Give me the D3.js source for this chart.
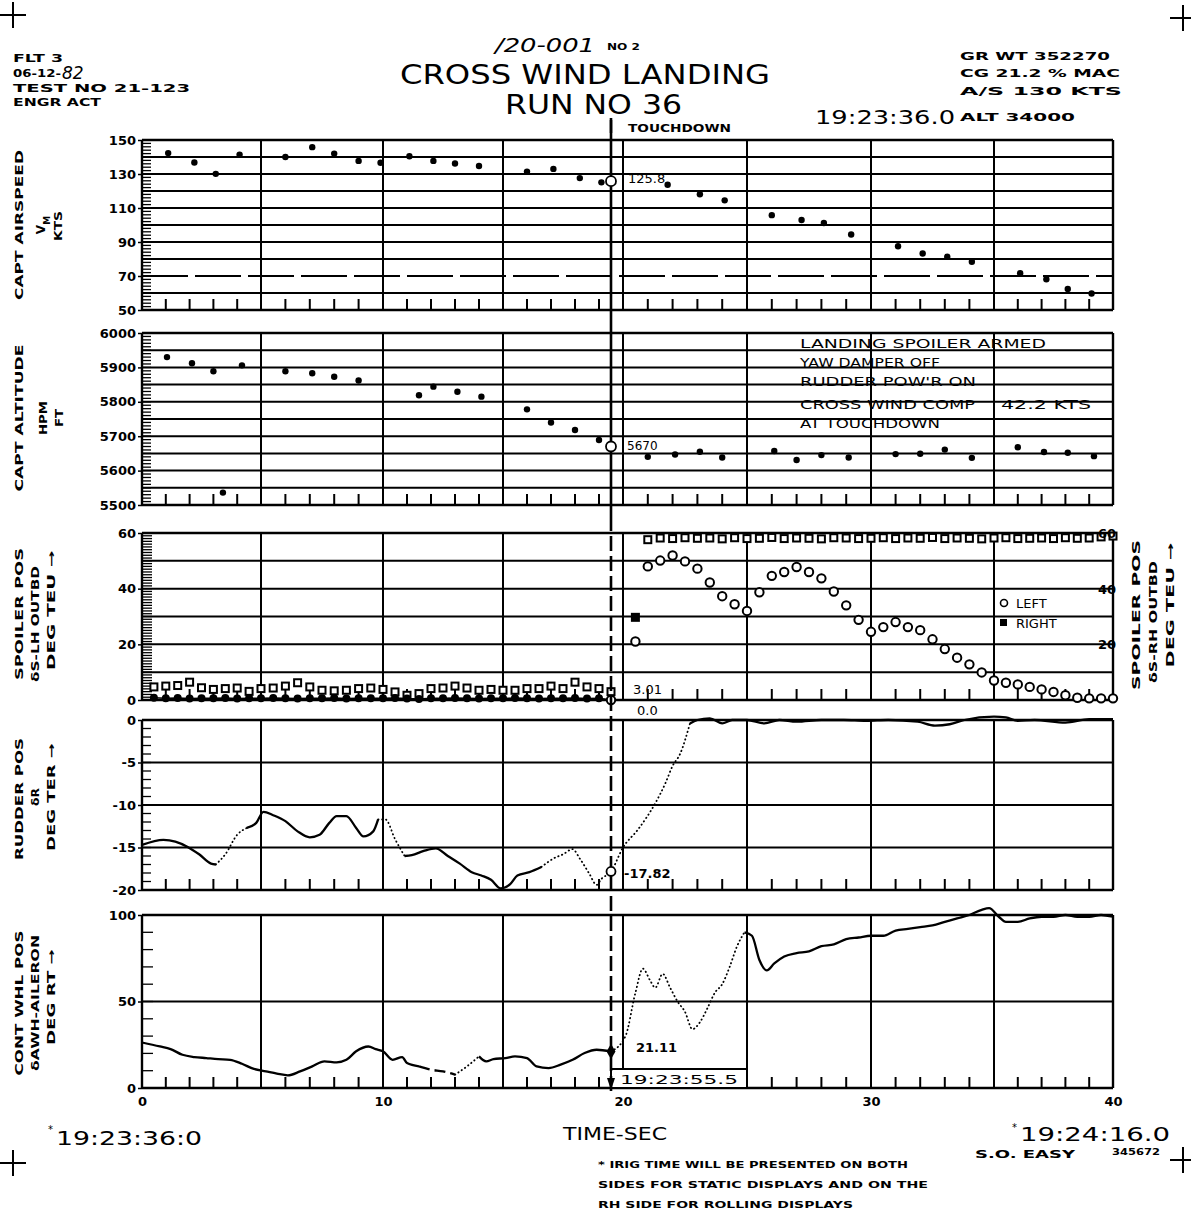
<!DOCTYPE html>
<html><head><meta charset="utf-8">
<script src="https://cdn.jsdelivr.net/npm/d3@7"></script>
<style>body{margin:0;background:#fff}svg{display:block}</style>
</head><body>
<script>
// ---------------- DATA ----------------
const timeBreaks = [0,5,10,15,20,25,30,35,40];
const timeLabels = [0,10,20,30,40];
const touchdownTime = 19.5;

const airspeedTime = [1.1,2.2,3.1,4.1,6.0,7.1,8.0,9.0,9.9,11.1,12.1,13.0,14.0,16.0,17.1,18.2,19.1,21.8,23.1,24.1,26.0,27.2,28.1,29.2,31.1,32.1,33.1,34.1,36.1,37.2,38.1,39.1];
const airspeedKts = [142.3,136.8,130.1,141.4,140.0,145.8,142.0,137.7,136.6,140.4,137.7,136.2,134.7,131.4,133.0,127.6,125.1,123.7,118.1,114.5,105.8,102.9,101.2,94.4,87.5,83.2,81.3,78.4,71.6,68.1,62.4,59.7];
const airspeedTicks = [50,70,90,110,130,150];
const airspeedAtTouchdown = 125.8;

const altitudeTime = [1.05,2.1,3.0,3.4,4.2,6.0,7.1,8.0,9.0,11.5,12.1,13.1,14.1,16.0,17.0,18.0,19.0,21.0,22.1,23.1,24.0,26.1,27.0,28.0,29.1,31.0,32.0,33.0,34.1,36.0,37.1,38.1,39.2];
const altitudeFt = [5930,5912,5889,5536,5906,5889,5883,5873,5862,5819,5844,5829,5815,5778,5740,5718,5689,5640,5647,5655,5638,5657,5631,5645,5638,5648,5649,5661,5637,5668,5654,5652,5642];
const altitudeTicks = [5500,5600,5700,5800,5900,6000];
const altitudeAtTouchdown = 5670;

const spoilerTime = [0.5,1,1.5,2,2.5,3,3.5,4,4.5,5,5.5,6,6.5,7,7.5,8,8.5,9,9.5,10,10.5,11,11.5,12,12.5,13,13.5,14,14.5,15,15.5,16,16.5,17,17.5,18,18.5,19,19.5,
  20.5,21,21.5,22,22.5,23,23.5,24,24.5,25,25.5,26,26.5,27,27.5,28,28.5,29,29.5,30,30.5,31,31.5,32,32.5,33,33.5,34,34.5,35,35.5,36,36.5,37,37.5,38,38.5,39,39.5,40];
const spoilerRight = [4.7,5.0,5.2,6.4,4.4,3.8,4.1,4.3,3.1,4.1,4.3,5.0,6.2,4.7,3.5,3.3,3.5,4.1,4.3,3.8,2.9,1.7,2.3,4.1,4.3,5.0,4.3,3.5,3.8,3.5,3.5,4.1,4.1,5.0,4.1,6.4,4.7,4.1,3.0,
  29.7,57.6,58.2,58.0,58.3,58.1,58.2,57.9,58.3,58.0,58.1,58.4,58.0,58.2,58.1,57.9,58.3,58.2,58.0,58.1,58.3,58.0,58.2,58.1,58.4,58.0,58.2,58.1,57.9,58.2,58.3,58.0,58.1,58.2,58.0,58.3,58.1,58.2,58.6,58.9];
const spoilerLeft = [0.8,0.6,0.7,0.5,0.6,0.6,0.7,0.5,0.6,0.6,0.7,0.6,0.5,0.6,0.6,0.7,0.5,0.6,0.6,0.6,0.7,0.5,0.4,0.6,0.6,0.7,0.6,0.5,0.6,0.6,0.7,0.6,0.5,0.6,0.6,0.7,0.5,0.6,0.0,
  21.0,48.0,50.1,51.9,49.8,47.2,42.2,37.3,34.4,32.0,38.7,44.6,46.0,47.8,46.0,43.7,39.0,34.0,28.8,24.5,26.2,28.0,26.2,25.1,21.8,18.3,15.2,12.8,9.9,7.0,6.2,5.6,4.7,3.8,2.9,1.7,0.8,0.6,0.6,0.6];
const spoilerTicksLeft = [0,20,40,60];
const spoilerTicksRight = [20,40,60];
const spoilerRightAtTouchdown = "3.01";
const spoilerLeftAtTouchdown = "0.0";

const rudderTime = [0,0.9,1.4,1.9,2.4,2.9,3.1,3.5,4.0,4.4,4.8,5.1,5.5,6.0,6.5,7.0,7.4,7.8,8.1,8.5,8.9,9.2,9.6,9.8,10.1,10.5,10.9,11.2,11.7,12.2,12.7,13.2,13.7,14.1,14.5,14.9,15.3,15.6,16.1,16.6,17.1,17.5,17.9,18.2,18.6,18.9,19.1,19.5,20.0,20.6,21.3,21.7,22.0,22.3,22.7,23.0,23.5,24.0,24.4,25.0,25.7,26.3,27.0,28.0,28.9,29.8,30.7,31.9,32.6,33.2,33.8,35.0,35.5,36.0,36.7,38.0,39.0,40.0];
const rudderDeg = [-14.7,-14.1,-14.3,-14.9,-15.8,-16.9,-17.0,-15.8,-13.5,-12.7,-12.1,-10.8,-11.2,-11.9,-13.1,-13.8,-13.5,-12.1,-11.3,-11.3,-12.7,-13.7,-13.1,-11.7,-11.7,-14.0,-16.0,-15.9,-15.4,-15.1,-16.0,-16.9,-17.9,-18.3,-18.8,-19.8,-19.3,-18.3,-17.9,-17.3,-16.3,-15.8,-15.2,-16.3,-18.1,-19.4,-18.7,-17.82,-15.0,-12.9,-9.8,-7.5,-5.4,-4.0,-0.4,0,0.2,-0.4,0,0,-0.4,0,-0.2,0,0,-0.1,0,-0.2,-0.65,-0.5,0,0.4,0.3,-0.1,0,-0.3,0.1,0.1];
const rudderTicks = [-20,-15,-10,-5,0];
const rudderAtTouchdown = -17.82;

const aileronTime = [0,0.75,1.2,1.7,2.2,2.7,3.2,3.7,4.2,4.7,5.2,5.65,6.1,6.6,7.1,7.6,8.1,8.5,8.9,9.4,9.7,10.0,10.4,10.8,11.0,11.5,12.0,12.5,13.0,13.5,14.0,14.3,14.6,15.1,15.5,16.0,16.4,16.9,17.4,17.9,18.4,18.9,19.5,
  20.1,20.5,20.8,21.1,21.3,21.6,21.9,22.2,22.5,22.8,23.1,23.4,23.7,24.0,24.3,24.6,24.9,25.2,25.5,25.8,26.1,26.5,27.0,27.5,28.0,28.5,29.0,29.5,30.0,30.5,31.0,31.5,32.0,32.5,33.0,33.5,34.0,34.5,34.8,35.2,35.5,36.0,36.5,37.0,37.5,38.0,38.5,39.0,39.5,40.0];
const aileronDeg = [26.3,24.0,22.5,19.2,17.9,17.3,16.7,16.3,14.0,11.0,9.6,8.3,7.3,9.6,12.5,15.4,14.8,16.3,21.2,24.0,22.5,21.2,16.3,17.9,14.4,12.5,10.6,9.6,7.7,12.5,18.3,15.4,16.7,17.3,18.3,17.3,12.5,11.5,13.5,16.3,20.2,22.1,21.11,
  30,55,69,62,58,66,58,50,44,34,38,46,55,60,70,82,90,88,74,68,72,76,78,79,82,83,86,87,88,88,91,92,93,94,96,98,100,103,104,99,96,96,98,99,99,100,99,99,100,99];
const aileronTicks = [0,50,100];
const aileronAtTouchdown = 21.11;

// ---------------- DRAWING ----------------
const W = 1191, H = 1220;
const FONT = "'DejaVu Sans', 'Liberation Sans', sans-serif";
const svg = d3.select("body").append("svg").attr("width", W).attr("height", H)
  .style("background", "#fff");
svg.append("rect").attr("width", W).attr("height", H).attr("fill", "#fff");

const x = d3.scaleLinear().domain(timeBreaks).range([142,261,383,503,623,747,871,994,1113]);
const X0 = x(0), X1 = x(40);

function txt(px, py, s, o = {}) {
  const t = svg.append("text").attr("x", px).attr("y", py).text(s)
    .attr("font-family", o.family || FONT)
    .attr("font-size", o.size || 11)
    .attr("font-weight", o.weight || "bold")
    .attr("font-style", o.style || null)
    .attr("fill", "#000")
    .attr("text-anchor", o.anchor || "start");
  if (o.len) t.attr("textLength", o.len).attr("lengthAdjust", "spacingAndGlyphs");
  return t;
}
function vtxt(cx, cy, s, o = {}) {
  const t = svg.append("text").attr("transform", `translate(${cx},${cy}) rotate(-90)`)
    .text(s).attr("font-family", FONT).attr("font-size", o.size || 10.5)
    .attr("font-weight", "bold").attr("fill", "#000").attr("text-anchor", "middle");
  if (o.len) t.attr("textLength", o.len).attr("lengthAdjust", "spacingAndGlyphs");
  return t;
}

function frame(y, gridStep, minorStep, minorLen, tickVals, dashedGrid = []) {
  const [d0, d1] = y.domain();
  const top = y(d1), bot = y(d0);
  const g = svg.append("g");
  const gv = d3.range(d0, d1 + gridStep / 2, gridStep);
  g.selectAll(null).data(gv).join("line")
    .attr("x1", X0).attr("x2", X1).attr("y1", d => y(d)).attr("y2", d => y(d))
    .attr("stroke", "#000").attr("stroke-width", d => (d === d0 || d === d1) ? 2.4 : 2)
    .attr("stroke-dasharray", d => dashedGrid.includes(d) ? "46,7" : null);
  g.selectAll(null).data(d3.range(0, 41, 5)).join("line")
    .attr("x1", d => x(d)).attr("x2", d => x(d)).attr("y1", top).attr("y2", bot)
    .attr("stroke", "#000").attr("stroke-width", d => (d === 0 || d === 40) ? 2.4 : 2);
  g.selectAll(null).data(d3.range(1, 40).filter(d => d % 5 !== 0)).join("line")
    .attr("x1", d => x(d)).attr("x2", d => x(d)).attr("y1", bot).attr("y2", bot - 11)
    .attr("stroke", "#000").attr("stroke-width", 2);
  g.selectAll(null).data(d3.range(d0, d1 + minorStep / 2, minorStep)).join("line")
    .attr("x1", X0).attr("x2", X0 + minorLen).attr("y1", d => y(d)).attr("y2", d => y(d))
    .attr("stroke", "#000").attr("stroke-width", 1.3);
  const ax = d3.axisLeft(y).tickValues(tickVals).tickSize(4).tickPadding(2).tickFormat(d => String(d));
  const a = g.append("g").attr("transform", `translate(${X0},0)`).call(ax);
  a.select(".domain").remove();
  a.selectAll("line").attr("stroke", "#000").attr("stroke-width", 1.5);
  a.selectAll("text").attr("font-family", FONT).attr("font-weight", "bold")
    .attr("font-size", 13).attr("fill", "#000");
  return g;
}

function styledLine(y, ts, vs, dotted, dashed) {
  const pts = ts.map((t, i) => [t, vs[i]]);
  const inR = (m, rs) => rs.some(r => m >= r[0] && m <= r[1]);
  const runs = []; let cur = null;
  for (let i = 0; i < pts.length - 1; i++) {
    const m = (pts[i][0] + pts[i + 1][0]) / 2;
    const s = inR(m, dotted) ? "dot" : inR(m, dashed) ? "dash" : "solid";
    if (!cur || cur.s !== s) { cur = { s, p: [pts[i]] }; runs.push(cur); }
    cur.p.push(pts[i + 1]);
  }
  const line = d3.line().x(d => x(d[0])).y(d => y(d[1])).curve(d3.curveMonotoneX);
  runs.forEach(r => {
    svg.append("path").attr("d", line(r.p)).attr("fill", "none").attr("stroke", "#000")
      .attr("stroke-width", r.s === "dot" ? 1.8 : 2.3)
      .attr("stroke-linecap", r.s === "dot" ? "round" : "butt")
      .attr("stroke-dasharray", r.s === "dot" ? "0.4,3.6" : r.s === "dash" ? "11,5" : null);
  });
}

const yAir = d3.scaleLinear([50, 150], [310, 140]);
const yAlt = d3.scaleLinear([5500, 6000], [505, 333]);
const ySp = d3.scaleLinear([0, 60], [700, 533]);
const yRud = d3.scaleLinear([-20, 0], [890, 720]);
const yAil = d3.scaleLinear([0, 100], [1088, 915]);

frame(yAir, 10, 2, 9, airspeedTicks, [70]);
frame(yAlt, 50, 10, 9, altitudeTicks);
frame(ySp, 10, 1, 10, spoilerTicksLeft);
frame(yRud, 5, 1, 9, rudderTicks);
frame(yAil, 50, 10, 11, aileronTicks);

const xT = x(touchdownTime);

// panel 1
svg.append("g").selectAll("circle").data(d3.zip(airspeedTime, airspeedKts)).join("circle")
  .attr("cx", d => x(d[0])).attr("cy", d => yAir(d[1])).attr("r", 3.2).attr("fill", "#000");

// panel 2
svg.append("g").selectAll("circle").data(d3.zip(altitudeTime, altitudeFt)).join("circle")
  .attr("cx", d => x(d[0])).attr("cy", d => yAlt(d[1])).attr("r", 3.2).attr("fill", "#000");
const note = [["LANDING SPOILER ARMED", 348, 246], ["YAW DAMPER OFF", 367, 140], ["RUDDER POW'R ON", 386, 176],
  ["CROSS WIND COMP", 409, 175], ["AT TOUCHDOWN", 428, 140]];
note.forEach(n => txt(800, n[1], n[0], { size: 13, weight: "normal", len: n[2] }));
txt(1001, 409, "42.2 KTS", { size: 13, weight: "normal", len: 90 });

// panel 3
const spPts = d3.zip(spoilerTime, spoilerLeft, spoilerRight);
svg.append("path").attr("d", d3.line().x(d => x(d[0])).y(d => ySp(d[1]))(spPts.filter(d => d[0] < touchdownTime + 0.01)))
  .attr("fill", "none").attr("stroke", "#000").attr("stroke-width", 1.5);
svg.append("g").selectAll("rect").data(spPts).join("rect")
  .attr("x", d => x(d[0]) - 3.5).attr("y", d => ySp(d[2]) - 3.5).attr("width", 7).attr("height", 7)
  .attr("fill", d => d[2] < 40 && d[0] > touchdownTime ? "#000" : "#fff")
  .attr("stroke", "#000").attr("stroke-width", 2);
svg.append("g").selectAll("circle").data(spPts).join("circle")
  .attr("cx", d => x(d[0])).attr("cy", d => ySp(d[1]))
  .attr("r", d => d[0] < touchdownTime ? 3 : 4.2)
  .attr("fill", d => d[0] < touchdownTime ? "#000" : "#fff")
  .attr("stroke", "#000").attr("stroke-width", 2);
txt(633, 694, spoilerRightAtTouchdown, { size: 13, weight: "normal" });
txt(637, 715, spoilerLeftAtTouchdown, { size: 13, weight: "normal" });
spoilerTicksRight.forEach(v => txt(1116, ySp(v) + 5, String(v), { size: 13, anchor: "end" }));
svg.append("circle").attr("cx", 1004).attr("cy", 603).attr("r", 3.5).attr("fill", "#fff").attr("stroke", "#000").attr("stroke-width", 1.6);
txt(1016, 608, "LEFT", { size: 13, weight: "normal" });
svg.append("rect").attr("x", 1000).attr("y", 619).attr("width", 7).attr("height", 7).attr("fill", "#000");
txt(1016, 628, "RIGHT", { size: 13, weight: "normal" });

// panel 4
styledLine(yRud, rudderTime, rudderDeg, [[3.1, 4.4], [9.8, 10.9], [16.6, 22.8]], []);

// panel 5
styledLine(yAil, aileronTime, aileronDeg, [[13.0, 14.0], [19.5, 24.9]], [[11.6, 13.0]]);
svg.append("rect").attr("x", xT).attr("y", 1069).attr("width", x(25) - xT).attr("height", 19)
  .attr("fill", "#fff").attr("stroke", "#000").attr("stroke-width", 2);
txt(620, 1084, "19:23:55.5", { size: 12, weight: "normal", len: 118 });

// touchdown line and markers (on top)
svg.append("line").attr("x1", xT).attr("x2", xT).attr("y1", 118).attr("y2", 516)
  .attr("stroke", "#000").attr("stroke-width", 2.6);
svg.append("line").attr("x1", xT).attr("x2", xT).attr("y1", 516).attr("y2", 1092)
  .attr("stroke", "#000").attr("stroke-width", 2.6).attr("stroke-dasharray", "15,5");
svg.append("path").attr("d", `M${xT - 4},1078 L${xT + 4},1078 L${xT},1090 Z`).attr("fill", "#000");

svg.append("circle").attr("cx", xT).attr("cy", yAir(airspeedAtTouchdown)).attr("r", 5)
  .attr("fill", "#fff").attr("stroke", "#000").attr("stroke-width", 1.8);
txt(628, yAir(airspeedAtTouchdown) + 2, String(airspeedAtTouchdown), { size: 13, weight: "normal" });
svg.append("circle").attr("cx", xT).attr("cy", yAlt(altitudeAtTouchdown)).attr("r", 5)
  .attr("fill", "#fff").attr("stroke", "#000").attr("stroke-width", 1.8);
txt(627, yAlt(altitudeAtTouchdown) + 3, String(altitudeAtTouchdown), { size: 12, weight: "normal" });
svg.append("circle").attr("cx", xT).attr("cy", yRud(rudderAtTouchdown)).attr("r", 4.5)
  .attr("fill", "#fff").attr("stroke", "#000").attr("stroke-width", 1.8);
txt(624, yRud(rudderAtTouchdown) + 7, "-17.82", { size: 13, weight: "bold" });
svg.append("path").attr("d", d3.symbol(d3.symbolDiamond, 70)())
  .attr("transform", `translate(${xT},${yAil(aileronAtTouchdown)})`).attr("fill", "#000");
txt(636, 1052, String(aileronAtTouchdown), { size: 13, weight: "bold" });

// x axis labels
const xa = svg.append("g").attr("transform", `translate(0,1088)`)
  .call(d3.axisBottom(x).tickValues(timeLabels).tickSize(0).tickPadding(9).tickFormat(d => String(d)));
xa.select(".domain").remove();
xa.selectAll("text").attr("font-family", FONT).attr("font-weight", "bold").attr("font-size", 13).attr("fill", "#000");

// rotated titles
vtxt(23, 225, "CAPT AIRSPEED", { len: 150 });
const vm = vtxt(45, 225, "V", { size: 12 });
vm.append("tspan").attr("dy", 5).attr("font-size", 9).text("M");
vtxt(62, 226, "KTS", { len: 30 });
vtxt(23, 418, "CAPT ALTITUDE", { len: 147 });
vtxt(47, 418, "HPM", { len: 34 });
vtxt(63, 418, "FT", { len: 18 });
vtxt(23, 614, "SPOILER POS", { len: 132 });
vtxt(39, 624, "\u03b4S-LH OUTBD", { len: 116 });
vtxt(55, 610, "DEG TEU \u2192", { len: 120 });
vtxt(23, 799, "RUDDER POS", { len: 122 });
vtxt(39, 797, "\u03b4R", { len: 18 });
vtxt(55, 797, "DEG TER \u2192", { len: 108 });
vtxt(23, 1003, "CONT WHL POS", { len: 145 });
vtxt(39, 1003, "\u03b4AWH-AILERON", { len: 136 });
vtxt(55, 997, "DEG RT \u2192", { len: 96 });
vtxt(1140, 615, "SPOILER POS", { len: 150 });
vtxt(1157, 622, "\u03b4S-RH OUTBD", { len: 122 });
vtxt(1174, 605, "DEG TEU \u2192", { len: 125 });

// header
txt(13, 62, "FLT 3", { size: 10, len: 50 });
txt(13, 77, "06-12-", { size: 10, len: 48 });
txt(62, 79, "82", { size: 17, weight: "normal", style: "italic" });
txt(13, 92, "TEST NO  21-123", { size: 10, len: 177 });
txt(13, 106, "ENGR ACT", { size: 10, len: 88 });

txt(495, 52, "/20-001", { size: 19, weight: "normal", style: "italic", len: 100 });
txt(607, 50, "NO 2", { size: 9.5, len: 33 });
txt(400, 84, "CROSS WIND LANDING", { size: 27, weight: "normal", len: 370 });
txt(505, 114, "RUN NO 36", { size: 27, weight: "normal", len: 177 });

txt(960, 60, "GR WT 352270", { size: 10.5, len: 150 });
txt(960, 77, "CG 21.2 % MAC", { size: 10.5, len: 160 });
txt(960, 95, "A/S     130 KTS", { size: 10.5, len: 162 });
txt(960, 121, "ALT 34000", { size: 10.5, len: 115 });
txt(815, 124, "19:23:36.0", { size: 20, weight: "normal", len: 140 });

svg.append("line").attr("x1", xT).attr("x2", xT).attr("y1", 120).attr("y2", 133).attr("stroke", "#000").attr("stroke-width", 2.5);
txt(628, 132, "TOUCHDOWN", { size: 10.5, len: 103 });

// bottom text
txt(48, 1133, "*", { size: 10, weight: "normal" });
txt(56, 1145, "19:23:36:0", { size: 19, weight: "normal", len: 146 });
txt(615, 1140, "TIME-SEC", { size: 18, weight: "normal", anchor: "middle", len: 104 });
txt(1012, 1131, "*", { size: 10, weight: "normal" });
txt(1020, 1141, "19:24:16.0", { size: 19, weight: "normal", len: 150 });
txt(975, 1158, "S.O. EASY", { size: 10.5, len: 100 });
txt(1112, 1155, "345672", { size: 9, len: 48 });
txt(598, 1168, "* IRIG TIME WILL BE PRESENTED ON BOTH", { size: 8.5, len: 310 });
txt(598, 1188, "SIDES   FOR STATIC DISPLAYS AND ON THE", { size: 8.5, len: 330 });
txt(598, 1208, "RH SIDE FOR ROLLING DISPLAYS", { size: 8.5, len: 255 });

// corner crosses
[[13, 15], [1183, 18], [13, 1163], [1183, 1160]].forEach(([cx, cy]) => {
  svg.append("line").attr("x1", cx - 13).attr("x2", cx + 13).attr("y1", cy).attr("y2", cy).attr("stroke", "#000").attr("stroke-width", 2);
  svg.append("line").attr("x1", cx).attr("x2", cx).attr("y1", cy - 13).attr("y2", cy + 13).attr("stroke", "#000").attr("stroke-width", 2);
});
</script>
</body></html>
